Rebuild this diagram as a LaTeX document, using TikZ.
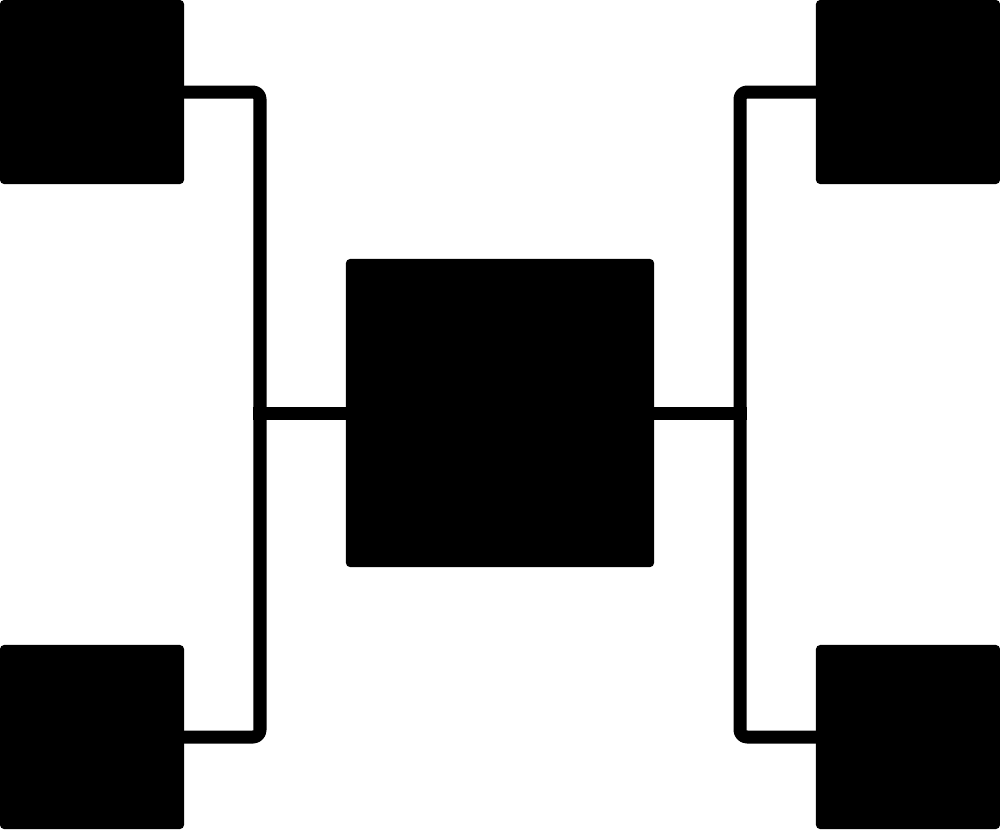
\documentclass[tikz,border=0pt]{standalone}
\begin{document}
\begin{tikzpicture}[x=0.01cm, y=-0.01cm, line join=round, line cap=butt,
    box/.style={fill=black, draw=none, rounded corners=1.2pt, inner sep=0pt, minimum size=1.84cm},
    hub/.style={fill=black, draw=none, rounded corners=1.2pt, inner sep=0pt, minimum size=3.08cm},
    wire/.style={line width=0.13cm, rounded corners=2pt, shorten <=-2pt, shorten >=-2pt}]
    \useasboundingbox (0,0) rectangle (1000,829);
    \node[hub] (c) at (500,413) {};
    \node[box] (tl) at (92,92) {};
    \node[box] (bl) at (92,737) {};
    \node[box] (tr) at (908,92) {};
    \node[box] (br) at (908,737) {};
    \coordinate (lj) at (260,413);
    \coordinate (rj) at (740,413);
    \draw[wire] (tl.east) -| (lj) |- (bl.east);
    \draw[wire] (tr.west) -| (rj) |- (br.west);
    \draw[wire] (lj) -- (c.west);
    \draw[wire] (rj) -- (c.east);
\end{tikzpicture}
\end{document}
